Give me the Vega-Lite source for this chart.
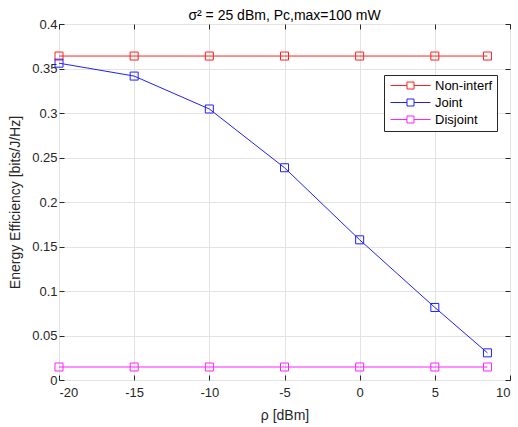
{
  "$schema": "https://vega.github.io/schema/vega-lite/v6.json",
  "width": 451,
  "height": 356,
  "autosize": {"type": "none"},
  "padding": {"left": 59, "top": 24, "right": 8, "bottom": 47},
  "background": "white",
  "title": {"text": "σ² = 25 dBm, Pc,max=100 mW", "fontSize": 14, "fontWeight": "normal", "font": "Liberation Sans", "color": "#000000", "offset": -5},
  "config": {
    "font": "Liberation Sans",
    "view": {"stroke": "#262626", "strokeWidth": 1},
    "axis": {"labelFont": "Liberation Sans", "titleFont": "Liberation Sans", "labelFontSize": 13, "titleFontSize": 14, "titleFontWeight": "normal", "labelColor": "#262626", "titleColor": "#262626", "domainColor": "#262626", "tickColor": "#262626", "gridColor": "#e3e3e3", "gridWidth": 1}
  },
  "data": {"values": [
    {"series": "Non-interf", "x": -20, "y": 0.364},
    {"series": "Non-interf", "x": -15, "y": 0.364},
    {"series": "Non-interf", "x": -10, "y": 0.364},
    {"series": "Non-interf", "x": -5, "y": 0.364},
    {"series": "Non-interf", "x": 0, "y": 0.364},
    {"series": "Non-interf", "x": 5, "y": 0.364},
    {"series": "Non-interf", "x": 8.5, "y": 0.364},
    {"series": "Joint", "x": -20, "y": 0.356},
    {"series": "Joint", "x": -15, "y": 0.3415},
    {"series": "Joint", "x": -10, "y": 0.3045},
    {"series": "Joint", "x": -5, "y": 0.2385},
    {"series": "Joint", "x": 0, "y": 0.1575},
    {"series": "Joint", "x": 5, "y": 0.0815},
    {"series": "Joint", "x": 8.5, "y": 0.0305},
    {"series": "Disjoint", "x": -20, "y": 0.0146},
    {"series": "Disjoint", "x": -15, "y": 0.0146},
    {"series": "Disjoint", "x": -10, "y": 0.0146},
    {"series": "Disjoint", "x": -5, "y": 0.0146},
    {"series": "Disjoint", "x": 0, "y": 0.0146},
    {"series": "Disjoint", "x": 5, "y": 0.0146},
    {"series": "Disjoint", "x": 8.5, "y": 0.0146}
  ]},
  "layer": [
    {
      "mark": {"type": "line", "strokeWidth": 1},
      "encoding": {
        "x": {"field": "x", "type": "quantitative", "scale": {"domain": [-20, 10], "nice": false, "zero": false},
              "axis": {"orient": "bottom", "title": "ρ [dBm]", "values": [-20, -15, -10, -5, 0, 5, 10], "labelExpr": "replace(datum.label, '−', '-')", "tickSize": -5, "labelPadding": 11, "domain": false, "titlePadding": 9}},
        "y": {"field": "y", "type": "quantitative", "scale": {"domain": [0, 0.4], "nice": false},
              "axis": {"orient": "left", "title": "Energy Efficiency [bits/J/Hz]", "values": [0, 0.05, 0.1, 0.15, 0.2, 0.25, 0.3, 0.35, 0.4], "format": "~g", "tickSize": -5, "labelPadding": 7, "domain": false, "titlePadding": 9}},
        "color": {"field": "series", "type": "nominal",
                  "scale": {"domain": ["Non-interf", "Joint", "Disjoint"], "range": ["#ff2020", "#2020ff", "#ff20ff"]},
                  "legend": {"title": null, "orient": "none", "legendX": 325, "legendY": 51,
                             "symbolType": "M-4,0H-0.7M0.7,0H4M-0.7,-0.7H0.7V0.7H-0.7Z",
                             "symbolSize": 100, "symbolOffset": 16, "symbolStrokeWidth": 1, "symbolFillColor": "transparent",
                             "labelFontSize": 13, "labelFont": "Liberation Sans", "labelColor": "#000000", "labelOffset": 18,
                             "strokeColor": "#262626", "fillColor": "white", "padding": 4, "rowPadding": 3}}
      }
    },
    {
      "mark": {"type": "point", "shape": "square", "filled": false, "size": 64, "strokeWidth": 1, "opacity": 1},
      "encoding": {
        "x": {"field": "x", "type": "quantitative",
              "axis": {"orient": "top", "title": null, "labels": false, "grid": false, "domain": false, "values": [-20, -15, -10, -5, 0, 5, 10], "tickSize": -5}},
        "y": {"field": "y", "type": "quantitative",
              "axis": {"orient": "right", "title": null, "labels": false, "grid": false, "domain": false, "values": [0, 0.05, 0.1, 0.15, 0.2, 0.25, 0.3, 0.35, 0.4], "tickSize": -5}},
        "color": {"field": "series", "type": "nominal"}
      }
    }
  ],
  "resolve": {"axis": {"x": "independent", "y": "independent"}}
}
